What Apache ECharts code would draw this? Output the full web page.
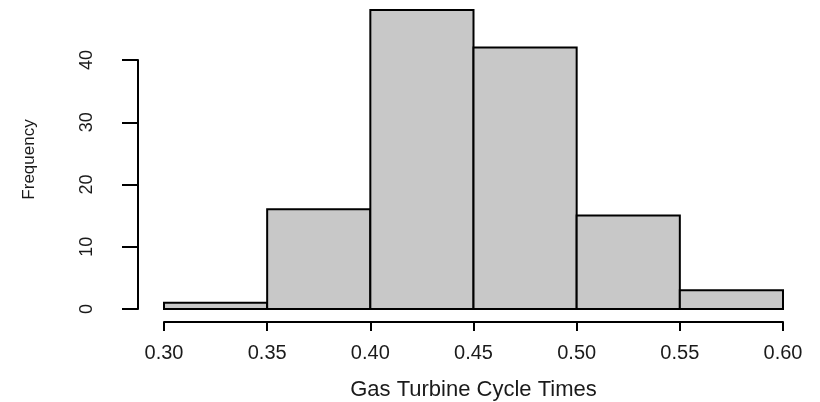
<!DOCTYPE html>
<html><head><meta charset="utf-8">
<script src="https://cdn.jsdelivr.net/npm/echarts@6/dist/echarts.min.js"></script>
<style>html,body{margin:0;padding:0;background:#fff}#c{width:820px;height:402px}</style>
</head><body><div id="c"></div>
<script>
var binStarts = [0.30, 0.35, 0.40, 0.45, 0.50, 0.55];
var binEnds   = [0.35, 0.40, 0.45, 0.50, 0.55, 0.60];
var counts    = [1, 16, 48, 42, 15, 3];
var xTicks = [0.30, 0.35, 0.40, 0.45, 0.50, 0.55, 0.60];
var yTicks = [0, 10, 20, 30, 40];

var data = binStarts.map(function(s, i){ return [s, binEnds[i], counts[i]]; });
var FONT = 'Liberation Sans, Arial, sans-serif';
var chart = echarts.init(document.getElementById('c'), null, {renderer:'canvas'});
chart.setOption({
  animation:false,
  backgroundColor:'#fff',
  grid:[
    {left:164, right:37, top:10, bottom:93, containLabel:false, outerBoundsMode:'none'},
    {left:138, width:1, top:60, bottom:93, containLabel:false, outerBoundsMode:'none'},
    {left:164, right:37, top:300, bottom:80, containLabel:false, outerBoundsMode:'none'}
  ],
  xAxis:[
    {type:'value', gridIndex:0, min:xTicks[0], max:xTicks[xTicks.length-1], show:false},
    {type:'value', gridIndex:1, show:false},
    {type:'value', gridIndex:2, position:'bottom', min:xTicks[0], max:xTicks[xTicks.length-1], interval:0.05,
     axisLine:{show:true, lineStyle:{color:'#000', width:2}},
     axisTick:{show:true, length:9, lineStyle:{color:'#000', width:2}},
     axisLabel:{color:'#1a1a1a', fontSize:20, fontFamily:FONT, margin:21,
       formatter:function(v){return v.toFixed(2);}},
     splitLine:{show:false},
     name:'Gas Turbine Cycle Times', nameLocation:'middle', nameGap:57,
     nameTextStyle:{color:'#1a1a1a', fontSize:22, fontFamily:FONT}
    }
  ],
  yAxis:[
    {type:'value', gridIndex:0, min:0, max:48,
     axisLine:{show:false}, axisTick:{show:false}, axisLabel:{show:false}, splitLine:{show:false},
     name:'Frequency', nameLocation:'middle', nameRotate:90, nameGap:126,
     nameTextStyle:{color:'#1a1a1a', fontSize:17, fontFamily:FONT}
    },
    {type:'value', gridIndex:1, min:yTicks[0], max:yTicks[yTicks.length-1], interval:10,
     axisLine:{show:true, lineStyle:{color:'#000', width:2}},
     axisTick:{show:true, length:16, lineStyle:{color:'#000', width:2}},
     axisLabel:{color:'#1a1a1a', fontSize:18, fontFamily:FONT, rotate:90, margin:42},
     splitLine:{show:false}
    },
    {type:'value', gridIndex:2, show:false}
  ],
  series:[{
    type:'custom', xAxisIndex:0, yAxisIndex:0,
    data:data,
    encode:{x:[0,1], y:2},
    renderItem:function(params, api){
      var p0 = api.coord([api.value(0), 0]);
      var p1 = api.coord([api.value(1), api.value(2)]);
      return {type:'rect',
        shape:{x:p0[0], y:p1[1], width:p1[0]-p0[0], height:p0[1]-p1[1]},
        style:{fill:'#c8c8c8', stroke:'#000', lineWidth:2}};
    }
  }]
});
</script></body></html>
